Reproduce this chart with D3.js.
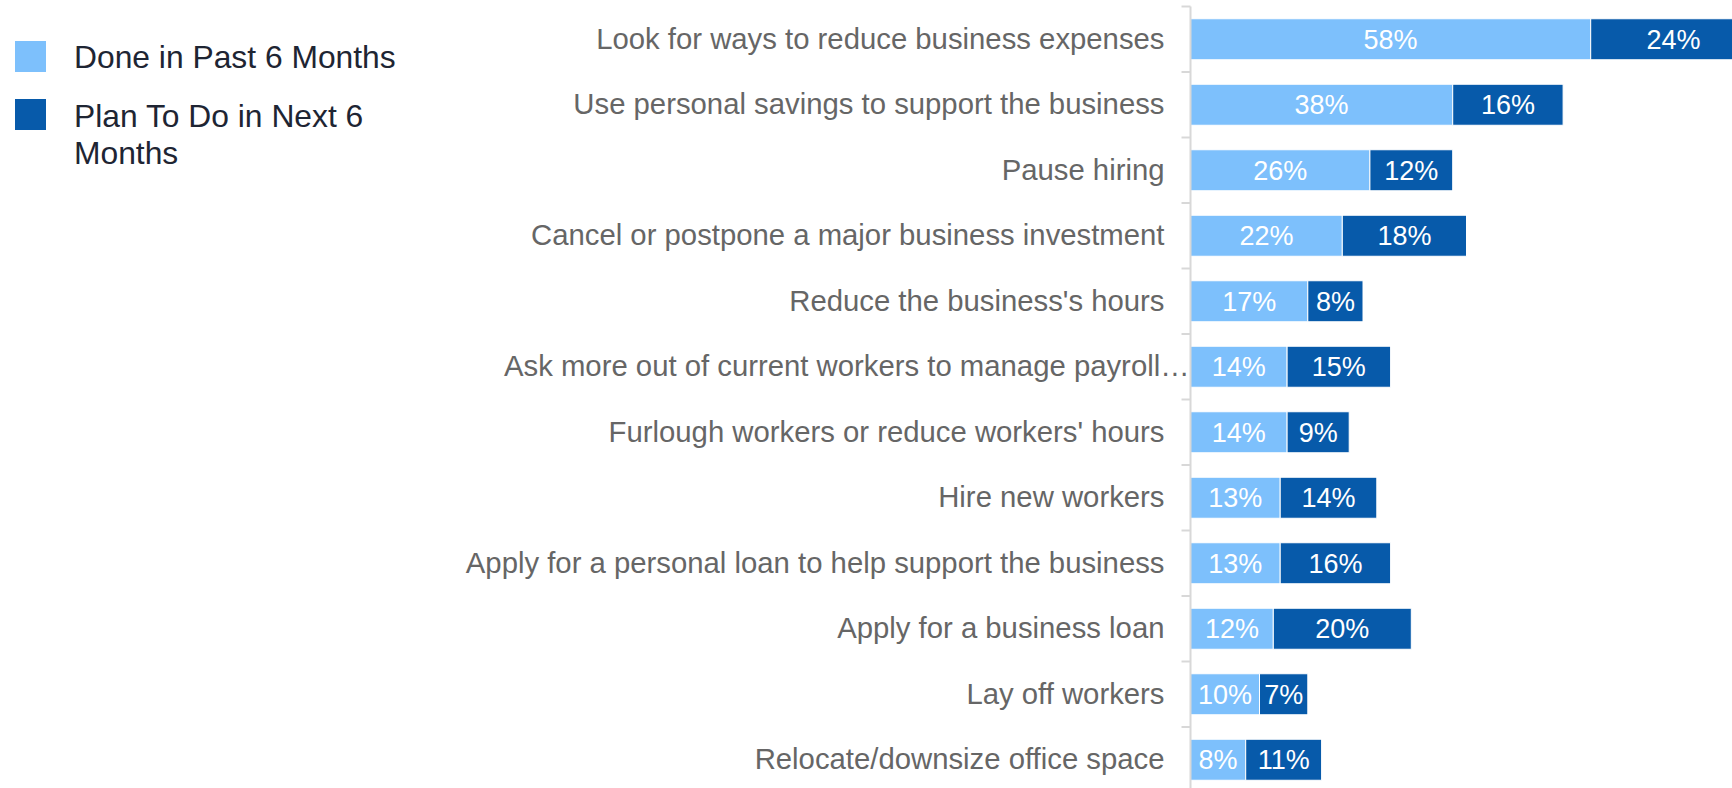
<!DOCTYPE html>
<html>
<head>
<meta charset="utf-8">
<script src="https://cdn.jsdelivr.net/npm/d3@7/dist/d3.min.js"></script>
<style>
  html, body { margin: 0; padding: 0; background: #ffffff; }
  svg { display: block; font-family: "Liberation Sans", Arial, sans-serif; }
</style>
</head>
<body>
<svg id="chart" width="1732" height="788"></svg>
<script>
// Small-business actions: share who did each in the past 6 months vs. plan to in the next 6
const categories = [
  "Look for ways to reduce business expenses",
  "Use personal savings to support the business",
  "Pause hiring",
  "Cancel or postpone a major business investment",
  "Reduce the business's hours",
  "Ask more out of current workers to manage payroll…",
  "Furlough workers or reduce workers' hours",
  "Hire new workers",
  "Apply for a personal loan to help support the business",
  "Apply for a business loan",
  "Lay off workers",
  "Relocate/downsize office space"
];
const donePast = [58, 38, 26, 22, 17, 14, 14, 13, 13, 12, 10, 8];
const planNext = [24, 16, 12, 18, 8, 15, 9, 14, 16, 20, 7, 11];
const seriesNames = ["Done in Past 6 Months", "Plan To Do in Next 6 Months"];
const seriesColors = ["#7dc0fc", "#075aaa"];

const width = 1732, height = 788;
const svg = d3.select("#chart");

const axisX = 1190.5;
const x = d3.scaleLinear().domain([0, 100]).range([axisX, axisX + 690]);
const y = d3.scaleBand()
  .domain(categories)
  .range([6.5, 792.5])
  .paddingInner(0.374)
  .paddingOuter(0.187);

const rows = categories.map((c, i) => ({ cat: c, vals: [donePast[i], planNext[i]] }));

// Stacked segments with centred value labels
const plot = svg.append("g").attr("class", "bars");
rows.forEach(r => {
  let start = 0;
  r.vals.forEach((v, k) => {
    const x0 = x(start), x1 = x(start + v);
    plot.append("rect")
      .attr("x", x0)
      .attr("y", y(r.cat))
      .attr("width", x1 - x0)
      .attr("height", y.bandwidth())
      .attr("fill", seriesColors[k])
      .attr("stroke", "#ffffff")
      .attr("stroke-width", 1);
    plot.append("text")
      .attr("x", (x0 + x1) / 2)
      .attr("y", y(r.cat) + y.bandwidth() / 2)
      .attr("dy", "0.35em")
      .attr("text-anchor", "middle")
      .attr("font-size", 27)
      .attr("fill", "#ffffff")
      .text(v + "%");
    start += v;
  });
});

// Category axis: labels from d3.axisLeft, boundary ticks between bands
const yAxis = svg.append("g")
  .attr("transform", `translate(${axisX},0)`)
  .call(d3.axisLeft(y).tickSize(0).tickPadding(26));
yAxis.select(".domain").remove();
yAxis.selectAll("text")
  .attr("font-size", 29.3)
  .attr("fill", "#666666")
  .attr("font-family", "'Liberation Sans', Arial, sans-serif");
// a truncated label runs right up to the axis line
yAxis.selectAll("text")
  .filter(d => d.endsWith("…"))
  .attr("x", -1);

const step = y.step();
const boundaries = categories.map(c => y(c) - (step - y.bandwidth()) / 2);
boundaries.push(boundaries[boundaries.length - 1] + step);
svg.append("line")
  .attr("x1", axisX).attr("x2", axisX)
  .attr("y1", boundaries[0]).attr("y2", height)
  .attr("stroke", "#d8d8d8").attr("stroke-width", 2);
svg.selectAll(".btick").data(boundaries).join("line")
  .attr("class", "btick")
  .attr("x1", axisX - 9).attr("x2", axisX)
  .attr("y1", d => d).attr("y2", d => d)
  .attr("stroke", "#d8d8d8").attr("stroke-width", 2);

// Legend
const legend = svg.append("g").attr("class", "legend");
const legendRows = [
  { y: 41, base: 68, lines: ["Done in Past 6 Months"] },
  { y: 99, base: 127, lines: ["Plan To Do in Next 6", "Months"] }
];
legendRows.forEach((row, k) => {
  legend.append("rect")
    .attr("x", 15).attr("y", row.y)
    .attr("width", 31).attr("height", 31)
    .attr("fill", seriesColors[k]);
  const t = legend.append("text")
    .attr("x", 74)
    .attr("y", row.base)
    .attr("font-size", 31.8)
    .attr("fill", "#1e2533");
  row.lines.forEach((ln, j) => {
    t.append("tspan").attr("x", 74).attr("dy", j === 0 ? 0 : 36.5).text(ln);
  });
});
</script>
</body>
</html>
